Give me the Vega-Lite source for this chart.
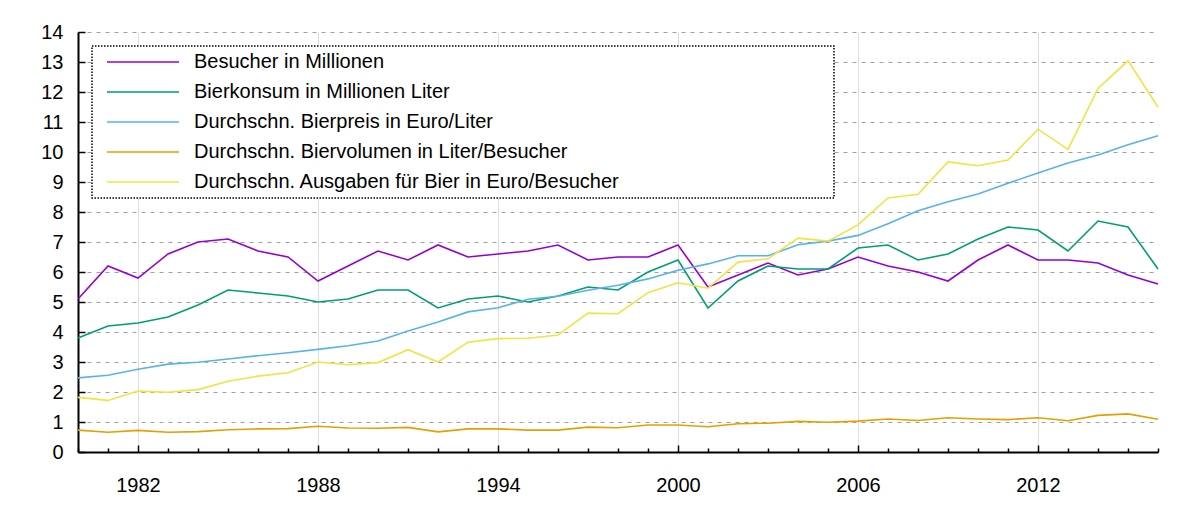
{
  "$schema": "https://vega.github.io/schema/vega-lite/v6.json",
  "autosize": "none",
  "width": 1080,
  "height": 420,
  "padding": {"left": 78, "top": 32, "right": 42, "bottom": 63},
  "config": {
    "view": {"stroke": null},
    "font": "Liberation Sans"
  },
  "data": {"values": [
    {"year":1980,"series":"Besucher in Millionen","value":5.1},
    {"year":1981,"series":"Besucher in Millionen","value":6.2},
    {"year":1982,"series":"Besucher in Millionen","value":5.8},
    {"year":1983,"series":"Besucher in Millionen","value":6.6},
    {"year":1984,"series":"Besucher in Millionen","value":7.0},
    {"year":1985,"series":"Besucher in Millionen","value":7.1},
    {"year":1986,"series":"Besucher in Millionen","value":6.7},
    {"year":1987,"series":"Besucher in Millionen","value":6.5},
    {"year":1988,"series":"Besucher in Millionen","value":5.7},
    {"year":1989,"series":"Besucher in Millionen","value":6.2},
    {"year":1990,"series":"Besucher in Millionen","value":6.7},
    {"year":1991,"series":"Besucher in Millionen","value":6.4},
    {"year":1992,"series":"Besucher in Millionen","value":6.9},
    {"year":1993,"series":"Besucher in Millionen","value":6.5},
    {"year":1994,"series":"Besucher in Millionen","value":6.6},
    {"year":1995,"series":"Besucher in Millionen","value":6.7},
    {"year":1996,"series":"Besucher in Millionen","value":6.9},
    {"year":1997,"series":"Besucher in Millionen","value":6.4},
    {"year":1998,"series":"Besucher in Millionen","value":6.5},
    {"year":1999,"series":"Besucher in Millionen","value":6.5},
    {"year":2000,"series":"Besucher in Millionen","value":6.9},
    {"year":2001,"series":"Besucher in Millionen","value":5.5},
    {"year":2002,"series":"Besucher in Millionen","value":5.9},
    {"year":2003,"series":"Besucher in Millionen","value":6.3},
    {"year":2004,"series":"Besucher in Millionen","value":5.9},
    {"year":2005,"series":"Besucher in Millionen","value":6.1},
    {"year":2006,"series":"Besucher in Millionen","value":6.5},
    {"year":2007,"series":"Besucher in Millionen","value":6.2},
    {"year":2008,"series":"Besucher in Millionen","value":6.0},
    {"year":2009,"series":"Besucher in Millionen","value":5.7},
    {"year":2010,"series":"Besucher in Millionen","value":6.4},
    {"year":2011,"series":"Besucher in Millionen","value":6.9},
    {"year":2012,"series":"Besucher in Millionen","value":6.4},
    {"year":2013,"series":"Besucher in Millionen","value":6.4},
    {"year":2014,"series":"Besucher in Millionen","value":6.3},
    {"year":2015,"series":"Besucher in Millionen","value":5.9},
    {"year":2016,"series":"Besucher in Millionen","value":5.6},
    {"year":1980,"series":"Bierkonsum in Millionen Liter","value":3.8},
    {"year":1981,"series":"Bierkonsum in Millionen Liter","value":4.2},
    {"year":1982,"series":"Bierkonsum in Millionen Liter","value":4.3},
    {"year":1983,"series":"Bierkonsum in Millionen Liter","value":4.5},
    {"year":1984,"series":"Bierkonsum in Millionen Liter","value":4.9},
    {"year":1985,"series":"Bierkonsum in Millionen Liter","value":5.4},
    {"year":1986,"series":"Bierkonsum in Millionen Liter","value":5.3},
    {"year":1987,"series":"Bierkonsum in Millionen Liter","value":5.2},
    {"year":1988,"series":"Bierkonsum in Millionen Liter","value":5.0},
    {"year":1989,"series":"Bierkonsum in Millionen Liter","value":5.1},
    {"year":1990,"series":"Bierkonsum in Millionen Liter","value":5.4},
    {"year":1991,"series":"Bierkonsum in Millionen Liter","value":5.4},
    {"year":1992,"series":"Bierkonsum in Millionen Liter","value":4.8},
    {"year":1993,"series":"Bierkonsum in Millionen Liter","value":5.1},
    {"year":1994,"series":"Bierkonsum in Millionen Liter","value":5.2},
    {"year":1995,"series":"Bierkonsum in Millionen Liter","value":5.0},
    {"year":1996,"series":"Bierkonsum in Millionen Liter","value":5.2},
    {"year":1997,"series":"Bierkonsum in Millionen Liter","value":5.5},
    {"year":1998,"series":"Bierkonsum in Millionen Liter","value":5.4},
    {"year":1999,"series":"Bierkonsum in Millionen Liter","value":6.0},
    {"year":2000,"series":"Bierkonsum in Millionen Liter","value":6.4},
    {"year":2001,"series":"Bierkonsum in Millionen Liter","value":4.8},
    {"year":2002,"series":"Bierkonsum in Millionen Liter","value":5.7},
    {"year":2003,"series":"Bierkonsum in Millionen Liter","value":6.2},
    {"year":2004,"series":"Bierkonsum in Millionen Liter","value":6.1},
    {"year":2005,"series":"Bierkonsum in Millionen Liter","value":6.1},
    {"year":2006,"series":"Bierkonsum in Millionen Liter","value":6.8},
    {"year":2007,"series":"Bierkonsum in Millionen Liter","value":6.9},
    {"year":2008,"series":"Bierkonsum in Millionen Liter","value":6.4},
    {"year":2009,"series":"Bierkonsum in Millionen Liter","value":6.6},
    {"year":2010,"series":"Bierkonsum in Millionen Liter","value":7.1},
    {"year":2011,"series":"Bierkonsum in Millionen Liter","value":7.5},
    {"year":2012,"series":"Bierkonsum in Millionen Liter","value":7.4},
    {"year":2013,"series":"Bierkonsum in Millionen Liter","value":6.7},
    {"year":2014,"series":"Bierkonsum in Millionen Liter","value":7.7},
    {"year":2015,"series":"Bierkonsum in Millionen Liter","value":7.5},
    {"year":2016,"series":"Bierkonsum in Millionen Liter","value":6.1},
    {"year":1980,"series":"Durchschn. Bierpreis in Euro/Liter","value":2.47},
    {"year":1981,"series":"Durchschn. Bierpreis in Euro/Liter","value":2.56},
    {"year":1982,"series":"Durchschn. Bierpreis in Euro/Liter","value":2.76},
    {"year":1983,"series":"Durchschn. Bierpreis in Euro/Liter","value":2.93},
    {"year":1984,"series":"Durchschn. Bierpreis in Euro/Liter","value":2.99},
    {"year":1985,"series":"Durchschn. Bierpreis in Euro/Liter","value":3.10},
    {"year":1986,"series":"Durchschn. Bierpreis in Euro/Liter","value":3.21},
    {"year":1987,"series":"Durchschn. Bierpreis in Euro/Liter","value":3.31},
    {"year":1988,"series":"Durchschn. Bierpreis in Euro/Liter","value":3.42},
    {"year":1989,"series":"Durchschn. Bierpreis in Euro/Liter","value":3.54},
    {"year":1990,"series":"Durchschn. Bierpreis in Euro/Liter","value":3.70},
    {"year":1991,"series":"Durchschn. Bierpreis in Euro/Liter","value":4.03},
    {"year":1992,"series":"Durchschn. Bierpreis in Euro/Liter","value":4.33},
    {"year":1993,"series":"Durchschn. Bierpreis in Euro/Liter","value":4.67},
    {"year":1994,"series":"Durchschn. Bierpreis in Euro/Liter","value":4.81},
    {"year":1995,"series":"Durchschn. Bierpreis in Euro/Liter","value":5.09},
    {"year":1996,"series":"Durchschn. Bierpreis in Euro/Liter","value":5.19},
    {"year":1997,"series":"Durchschn. Bierpreis in Euro/Liter","value":5.39},
    {"year":1998,"series":"Durchschn. Bierpreis in Euro/Liter","value":5.56},
    {"year":1999,"series":"Durchschn. Bierpreis in Euro/Liter","value":5.77},
    {"year":2000,"series":"Durchschn. Bierpreis in Euro/Liter","value":6.06},
    {"year":2001,"series":"Durchschn. Bierpreis in Euro/Liter","value":6.27},
    {"year":2002,"series":"Durchschn. Bierpreis in Euro/Liter","value":6.54},
    {"year":2003,"series":"Durchschn. Bierpreis in Euro/Liter","value":6.54},
    {"year":2004,"series":"Durchschn. Bierpreis in Euro/Liter","value":6.91},
    {"year":2005,"series":"Durchschn. Bierpreis in Euro/Liter","value":7.03},
    {"year":2006,"series":"Durchschn. Bierpreis in Euro/Liter","value":7.22},
    {"year":2007,"series":"Durchschn. Bierpreis in Euro/Liter","value":7.61},
    {"year":2008,"series":"Durchschn. Bierpreis in Euro/Liter","value":8.04},
    {"year":2009,"series":"Durchschn. Bierpreis in Euro/Liter","value":8.34},
    {"year":2010,"series":"Durchschn. Bierpreis in Euro/Liter","value":8.60},
    {"year":2011,"series":"Durchschn. Bierpreis in Euro/Liter","value":8.96},
    {"year":2012,"series":"Durchschn. Bierpreis in Euro/Liter","value":9.30},
    {"year":2013,"series":"Durchschn. Bierpreis in Euro/Liter","value":9.63},
    {"year":2014,"series":"Durchschn. Bierpreis in Euro/Liter","value":9.90},
    {"year":2015,"series":"Durchschn. Bierpreis in Euro/Liter","value":10.24},
    {"year":2016,"series":"Durchschn. Bierpreis in Euro/Liter","value":10.54},
    {"year":1980,"series":"Durchschn. Biervolumen in Liter/Besucher","value":0.73},
    {"year":1981,"series":"Durchschn. Biervolumen in Liter/Besucher","value":0.66},
    {"year":1982,"series":"Durchschn. Biervolumen in Liter/Besucher","value":0.72},
    {"year":1983,"series":"Durchschn. Biervolumen in Liter/Besucher","value":0.66},
    {"year":1984,"series":"Durchschn. Biervolumen in Liter/Besucher","value":0.68},
    {"year":1985,"series":"Durchschn. Biervolumen in Liter/Besucher","value":0.74},
    {"year":1986,"series":"Durchschn. Biervolumen in Liter/Besucher","value":0.77},
    {"year":1987,"series":"Durchschn. Biervolumen in Liter/Besucher","value":0.78},
    {"year":1988,"series":"Durchschn. Biervolumen in Liter/Besucher","value":0.86},
    {"year":1989,"series":"Durchschn. Biervolumen in Liter/Besucher","value":0.80},
    {"year":1990,"series":"Durchschn. Biervolumen in Liter/Besucher","value":0.79},
    {"year":1991,"series":"Durchschn. Biervolumen in Liter/Besucher","value":0.82},
    {"year":1992,"series":"Durchschn. Biervolumen in Liter/Besucher","value":0.67},
    {"year":1993,"series":"Durchschn. Biervolumen in Liter/Besucher","value":0.77},
    {"year":1994,"series":"Durchschn. Biervolumen in Liter/Besucher","value":0.77},
    {"year":1995,"series":"Durchschn. Biervolumen in Liter/Besucher","value":0.73},
    {"year":1996,"series":"Durchschn. Biervolumen in Liter/Besucher","value":0.73},
    {"year":1997,"series":"Durchschn. Biervolumen in Liter/Besucher","value":0.83},
    {"year":1998,"series":"Durchschn. Biervolumen in Liter/Besucher","value":0.81},
    {"year":1999,"series":"Durchschn. Biervolumen in Liter/Besucher","value":0.90},
    {"year":2000,"series":"Durchschn. Biervolumen in Liter/Besucher","value":0.90},
    {"year":2001,"series":"Durchschn. Biervolumen in Liter/Besucher","value":0.84},
    {"year":2002,"series":"Durchschn. Biervolumen in Liter/Besucher","value":0.94},
    {"year":2003,"series":"Durchschn. Biervolumen in Liter/Besucher","value":0.96},
    {"year":2004,"series":"Durchschn. Biervolumen in Liter/Besucher","value":1.02},
    {"year":2005,"series":"Durchschn. Biervolumen in Liter/Besucher","value":0.99},
    {"year":2006,"series":"Durchschn. Biervolumen in Liter/Besucher","value":1.03},
    {"year":2007,"series":"Durchschn. Biervolumen in Liter/Besucher","value":1.10},
    {"year":2008,"series":"Durchschn. Biervolumen in Liter/Besucher","value":1.05},
    {"year":2009,"series":"Durchschn. Biervolumen in Liter/Besucher","value":1.14},
    {"year":2010,"series":"Durchschn. Biervolumen in Liter/Besucher","value":1.10},
    {"year":2011,"series":"Durchschn. Biervolumen in Liter/Besucher","value":1.08},
    {"year":2012,"series":"Durchschn. Biervolumen in Liter/Besucher","value":1.14},
    {"year":2013,"series":"Durchschn. Biervolumen in Liter/Besucher","value":1.04},
    {"year":2014,"series":"Durchschn. Biervolumen in Liter/Besucher","value":1.22},
    {"year":2015,"series":"Durchschn. Biervolumen in Liter/Besucher","value":1.27},
    {"year":2016,"series":"Durchschn. Biervolumen in Liter/Besucher","value":1.09},
    {"year":1980,"series":"Durchschn. Ausgaben für Bier in Euro/Besucher","value":1.82},
    {"year":1981,"series":"Durchschn. Ausgaben für Bier in Euro/Besucher","value":1.72},
    {"year":1982,"series":"Durchschn. Ausgaben für Bier in Euro/Besucher","value":2.03},
    {"year":1983,"series":"Durchschn. Ausgaben für Bier in Euro/Besucher","value":1.99},
    {"year":1984,"series":"Durchschn. Ausgaben für Bier in Euro/Besucher","value":2.08},
    {"year":1985,"series":"Durchschn. Ausgaben für Bier in Euro/Besucher","value":2.36},
    {"year":1986,"series":"Durchschn. Ausgaben für Bier in Euro/Besucher","value":2.53},
    {"year":1987,"series":"Durchschn. Ausgaben für Bier in Euro/Besucher","value":2.64},
    {"year":1988,"series":"Durchschn. Ausgaben für Bier in Euro/Besucher","value":3.00},
    {"year":1989,"series":"Durchschn. Ausgaben für Bier in Euro/Besucher","value":2.91},
    {"year":1990,"series":"Durchschn. Ausgaben für Bier in Euro/Besucher","value":2.98},
    {"year":1991,"series":"Durchschn. Ausgaben für Bier in Euro/Besucher","value":3.41},
    {"year":1992,"series":"Durchschn. Ausgaben für Bier in Euro/Besucher","value":3.00},
    {"year":1993,"series":"Durchschn. Ausgaben für Bier in Euro/Besucher","value":3.66},
    {"year":1994,"series":"Durchschn. Ausgaben für Bier in Euro/Besucher","value":3.78},
    {"year":1995,"series":"Durchschn. Ausgaben für Bier in Euro/Besucher","value":3.79},
    {"year":1996,"series":"Durchschn. Ausgaben für Bier in Euro/Besucher","value":3.90},
    {"year":1997,"series":"Durchschn. Ausgaben für Bier in Euro/Besucher","value":4.63},
    {"year":1998,"series":"Durchschn. Ausgaben für Bier in Euro/Besucher","value":4.61},
    {"year":1999,"series":"Durchschn. Ausgaben für Bier in Euro/Besucher","value":5.31},
    {"year":2000,"series":"Durchschn. Ausgaben für Bier in Euro/Besucher","value":5.64},
    {"year":2001,"series":"Durchschn. Ausgaben für Bier in Euro/Besucher","value":5.46},
    {"year":2002,"series":"Durchschn. Ausgaben für Bier in Euro/Besucher","value":6.33},
    {"year":2003,"series":"Durchschn. Ausgaben für Bier in Euro/Besucher","value":6.44},
    {"year":2004,"series":"Durchschn. Ausgaben für Bier in Euro/Besucher","value":7.13},
    {"year":2005,"series":"Durchschn. Ausgaben für Bier in Euro/Besucher","value":7.03},
    {"year":2006,"series":"Durchschn. Ausgaben für Bier in Euro/Besucher","value":7.57},
    {"year":2007,"series":"Durchschn. Ausgaben für Bier in Euro/Besucher","value":8.47},
    {"year":2008,"series":"Durchschn. Ausgaben für Bier in Euro/Besucher","value":8.59},
    {"year":2009,"series":"Durchschn. Ausgaben für Bier in Euro/Besucher","value":9.67},
    {"year":2010,"series":"Durchschn. Ausgaben für Bier in Euro/Besucher","value":9.54},
    {"year":2011,"series":"Durchschn. Ausgaben für Bier in Euro/Besucher","value":9.73},
    {"year":2012,"series":"Durchschn. Ausgaben für Bier in Euro/Besucher","value":10.76},
    {"year":2013,"series":"Durchschn. Ausgaben für Bier in Euro/Besucher","value":10.09},
    {"year":2014,"series":"Durchschn. Ausgaben für Bier in Euro/Besucher","value":12.12},
    {"year":2015,"series":"Durchschn. Ausgaben für Bier in Euro/Besucher","value":13.04},
    {"year":2016,"series":"Durchschn. Ausgaben für Bier in Euro/Besucher","value":11.5}
  ]},
  "mark": {"type": "line", "strokeWidth": 1.6},
  "encoding": {
    "x": {
      "field": "year", "type": "quantitative",
      "scale": {"domain": [1980, 2016], "nice": false, "zero": false},
      "axis": {
        "title": null,
        "values": [1980,1981,1982,1983,1984,1985,1986,1987,1988,1989,1990,1991,1992,1993,1994,1995,1996,1997,1998,1999,2000,2001,2002,2003,2004,2005,2006,2007,2008,2009,2010,2011,2012,2013,2014,2015,2016],
        "labelExpr": "(datum.value - 1982) % 6 == 0 ? format(datum.value, 'd') : ''",
        "labelOverlap": false,
        "labelFontSize": 20,
        "labelColor": "black",
        "labelFont": "Liberation Sans",
        "labelPadding": 30,
        "domainColor": "black",
        "domainWidth": 2,
        "tickColor": "black",
        "tickWidth": 1.5,
        "tickSize": {"condition": {"test": "(datum.value - 1982) % 6 == 0", "value": -7}, "value": -4},
        "grid": true,
        "gridOpacity": {"condition": {"test": "(datum.value - 1982) % 6 == 0", "value": 1}, "value": 0}
      }
    },
    "y": {
      "field": "value", "type": "quantitative",
      "scale": {"domain": [0, 14], "nice": false},
      "axis": {
        "title": null,
        "tickCount": 14,
        "labelFontSize": 20,
        "labelPadding": 22,
        "domainColor": "black",
        "domainWidth": 2,
        "tickColor": "black",
        "tickWidth": 1.5,
        "tickSize": -7,
        "grid": true,
        "gridColor": "#a0a0a0",
        "gridWidth": 1,
        "gridDash": [4, 5]
      }
    },
    "color": {
      "field": "series", "type": "nominal",
      "scale": {
        "domain": ["Besucher in Millionen", "Bierkonsum in Millionen Liter", "Durchschn. Bierpreis in Euro/Liter", "Durchschn. Biervolumen in Liter/Besucher", "Durchschn. Ausgaben für Bier in Euro/Besucher"],
        "range": ["#9400d3", "#009e73", "#56b4e9", "#e69f00", "#f0e442"]
      },
      "legend": {
        "title": null,
        "orient": "none",
        "legendX": 14,
        "legendY": 14,
        "fillColor": "#ffffff",
        "strokeColor": "#000000",
        "padding": 6,
        "symbolType": "stroke",
        "symbolSize": 5184,
        "symbolStrokeWidth": 1.6,
        "symbolOffset": 8,
        "labelOffset": 14,
        "labelFontSize": 20,
        "labelFont": "Liberation Sans",
        "labelColor": "#000000",
        "labelLimit": 0,
        "clipHeight": 20,
        "rowPadding": 10,
        "encode": {
          "legend": {"update": {"strokeDash": {"value": [1.5, 1.5]}, "strokeWidth": {"value": 1.5}}},
          "entries": {"update": {"width": {"value": 730}}}
        }
      }
    }
  }
}
